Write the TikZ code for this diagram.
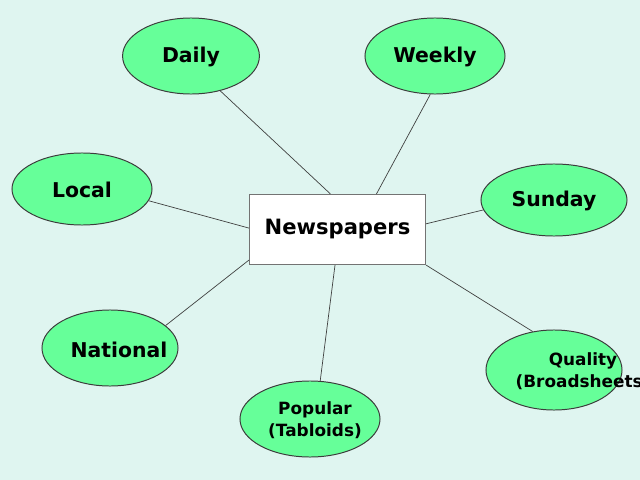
\documentclass[tikz,border=0pt]{standalone}
\usepackage{fontspec}
\setmainfont{DejaVu Sans}
\usetikzlibrary{shapes.geometric,calc}
\definecolor{bgcyan}{RGB}{223,245,240}
\definecolor{leaf}{RGB}{102,255,153}
\definecolor{rim}{RGB}{60,60,60}
\tikzset{
    kind/.style={ellipse, draw=rim, fill=leaf, line width=0.7pt, inner sep=0pt},
    tag/.style={font=\bfseries\fontsize{14.5}{17}\selectfont, anchor=center},
    smalltag/.style={font=\bfseries\fontsize{12}{15.5}\selectfont, align=center, anchor=center},
    link/.style={draw=black!75, line width=0.5pt}
}
\begin{document}
\begin{tikzpicture}[x=0.025cm, y=-0.025cm]
        \fill[bgcyan] (0,0) rectangle (640,480);
        \useasboundingbox (0,0) rectangle (640,480);
        % centre box
        \node[draw=black!55, fill=white, line width=0.8pt, minimum width=4.4cm, minimum height=1.75cm, tag, font=\bfseries\fontsize{15}{18}\selectfont] (news) at (337.5,229.5) {Newspapers};
        % kinds of paper
        \node[kind, minimum width=3.42cm, minimum height=1.9cm] (daily) at (191,56) {};
        \node[kind, minimum width=3.5cm, minimum height=1.9cm] (weekly) at (435,56) {};
        \node[kind, minimum width=3.5cm, minimum height=1.8cm] (local) at (82,189) {};
        \node[kind, minimum width=3.65cm, minimum height=1.8cm] (sunday) at (554,200) {};
        \node[kind, minimum width=3.4cm, minimum height=1.9cm] (national) at (110,348) {};
        \node[kind, minimum width=3.4cm, minimum height=2cm] (quality) at (554,370) {};
        \node[kind, minimum width=3.5cm, minimum height=1.9cm] (popular) at (310,419) {};
        \node[tag] (dailytxt) at (191,57) {Daily};
        \node[tag] (weeklytxt) at (435,57) {Weekly};
        \node[tag] (localtxt) at (82,190) {Local};
        \node[tag] (sundaytxt) at (554,201) {Sunday};
        \node[tag] (nationaltxt) at (119,350) {National};
        \node[smalltag] (qualitytxt) at (583,371) {Quality\\(Broadsheets)};
        \node[smalltag] (populartxt) at (315,420) {Popular\\(Tabloids)};
        % links
        \draw[link] (daily.-50) -- ($(news.north west)!0.46!(news.north east)$);
        \draw[link] (weekly.-97) -- ($(news.north west)!0.72!(news.north east)$);
        \draw[link] (local.-10) -- ($(news.north west)!0.48!(news.south west)$);
        \draw[link] (sunday.188) -- ($(news.north east)!0.42!(news.south east)$);
        \draw[link] (national.22) -- ($(news.north west)!0.93!(news.south west)$);
        \draw[link] (quality.119) -- (news.south east);
        \draw[link] (popular.75) -- ($(news.south west)!0.486!(news.south east)$);
    \end{tikzpicture}
\end{document}
